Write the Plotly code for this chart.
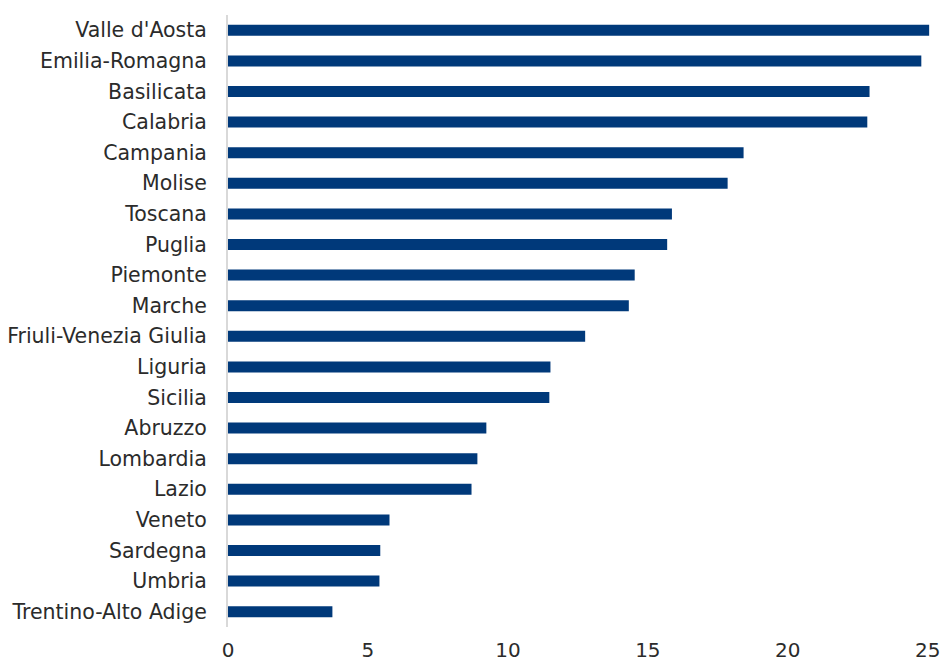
import plotly.graph_objects as go

regions = ["Valle d'Aosta", "Emilia-Romagna", "Basilicata", "Calabria", "Campania",
           "Molise", "Toscana", "Puglia", "Piemonte", "Marche",
           "Friuli-Venezia Giulia", "Liguria", "Sicilia", "Abruzzo", "Lombardia",
           "Lazio", "Veneto", "Sardegna", "Umbria", "Trentino-Alto Adige"]
values = [25.05, 24.77, 22.92, 22.84, 18.42,
          17.85, 15.86, 15.69, 14.53, 14.32,
          12.76, 11.52, 11.48, 9.23, 8.91,
          8.70, 5.77, 5.44, 5.41, 3.73]
x_ticks = [0, 5, 10, 15, 20, 25]

fig = go.Figure(go.Bar(
    x=values, y=regions, orientation="h",
    marker=dict(color="#00397A", line=dict(width=0)),
))

fig.update_layout(
    width=941, height=664,
    margin=dict(l=228, r=11, t=15, b=37),
    plot_bgcolor="white", paper_bgcolor="white",
    bargap=0.64,
    showlegend=False,
    font=dict(family="'DejaVu Sans', sans-serif", size=20.5, color="#2b2b2b"),
)
fig.update_xaxes(
    range=[0, 25.08], tickvals=x_ticks, showgrid=False, zeroline=False,
    showline=False, ticks="outside", ticklen=5, tickcolor="rgba(0,0,0,0)",
    tickfont=dict(size=20), automargin=False,
)
fig.update_yaxes(
    autorange="reversed", showgrid=False, zeroline=False,
    showline=True, linecolor="#D9D9D9", linewidth=2,
    ticks="outside", ticklen=15, tickcolor="rgba(0,0,0,0)",
    tickfont=dict(size=20.5), automargin=False,
)

fig.write_html(
    "out.html",
    config={"displayModeBar": False},
    post_script="document.body.style.margin='0';document.body.style.overflow='hidden';",
)
